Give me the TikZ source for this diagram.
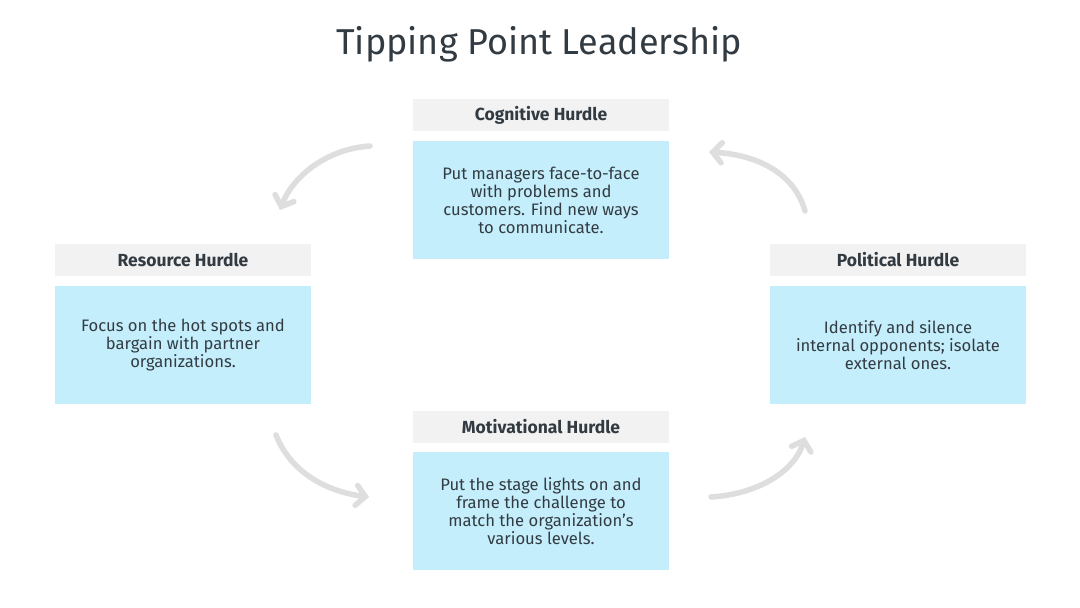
\documentclass[tikz,border=0pt]{standalone}
\usepackage{fontspec}
\setmainfont{Fira Sans}
\usetikzlibrary{arrows.meta}
\definecolor{hdrfill}{HTML}{F2F2F2}
\definecolor{bodyfill}{HTML}{C4EEFB}
\definecolor{txt}{HTML}{333B42}
\definecolor{arr}{HTML}{DEDEDE}
\tikzset{
  hdr/.style={fill=hdrfill, minimum width=256pt, minimum height=32pt, inner sep=0pt, text=txt, font=\fontsize{17.5}{20}\selectfont\bfseries},
  bodybox/.style={fill=bodyfill, minimum width=256pt, minimum height=118pt, inner sep=0pt, text=txt, align=center, font=\fontsize{16.6}{18}\selectfont},
  cyc/.style={draw=arr, line width=5.5pt, line cap=round, -{Straight Barb[length=9pt,width=20pt,line cap=round]}}
}
\begin{document}
\begin{tikzpicture}[x=1pt,y=-1pt]
\useasboundingbox[fill=white] (0,0) rectangle (1080,608);
\node[text=txt, font=\fontsize{36}{40}\selectfont] (title) at (539,44) {Tipping Point Leadership};
% Cognitive
\node[hdr] (cogh) at (541,115) {Cognitive Hurdle};
\node[bodybox] (cogb) at (541,200) {Put managers face-to-face\\with problems and\\customers. Find new ways\\to communicate.};
% Resource
\node[hdr] (resh) at (183,260) {Resource Hurdle};
\node[bodybox] (resb) at (183,345) {Focus on the hot spots and\\bargain with partner\\organizations.};
% Political
\node[hdr] (polh) at (898,260) {Political Hurdle};
\node[bodybox] (polb) at (898,345) {Identify and silence\\internal opponents; isolate\\external ones.};
% Motivational
\node[hdr] (moth) at (541,427) {Motivational Hurdle};
\node[bodybox] (motb) at (541,511) {Put the stage lights on and\\frame the challenge to\\match the organization’s\\various levels.};
% arrows
\coordinate (a1s) at (370,146);
\coordinate (a1e) at (280,210);
\coordinate (a2s) at (805,211);
\coordinate (a2e) at (709,152);
\coordinate (a3s) at (276,435);
\coordinate (a3e) at (369,497);
\coordinate (a4s) at (711,497);
\coordinate (a4e) at (805,437);
\draw[cyc] (a1s) .. controls (325,149) and (292,178) .. (a1e);
\draw[cyc] (a2s) .. controls (795,175) and (760,155) .. (a2e);
\draw[cyc] (a3s) .. controls (292,475) and (330,492) .. (a3e);
\draw[cyc] (a4s) .. controls (760,494) and (795,470) .. (a4e);
\end{tikzpicture}
\end{document}
